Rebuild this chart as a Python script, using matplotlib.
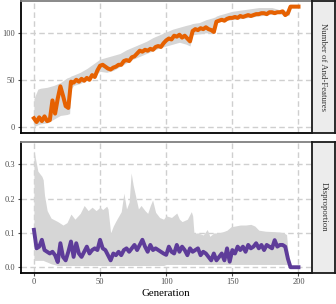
import matplotlib
matplotlib.use("Agg")
import matplotlib.pyplot as plt
import numpy as np

plt.rcParams['font.family'] = ['Liberation Serif', 'DejaVu Serif']

# ---- top panel: number of and-features ----
feat_gen = list(range(0, 201, 2))
feat_mean = [9, 5, 10, 6, 11, 6, 7, 28, 14, 30, 43, 33, 22, 20, 48, 47, 50, 48, 51, 49,
             52, 50, 55, 53, 60, 65, 66, 64, 62, 61, 63, 64, 66, 66, 70, 71, 70, 74, 75, 78,
             81, 80, 82, 81, 83, 82, 85, 86, 85, 89, 92, 94, 93, 97, 96, 98, 95, 97, 94, 91,
             102, 104, 103, 105, 104, 106, 104, 103, 101, 112, 113, 114, 113, 115, 116, 116, 117, 116, 118, 117,
             118, 119, 118, 119, 120, 120, 121, 121, 120, 122, 122, 121, 122, 122, 123, 119, 121, 128, 128, 128,
             128]
feat_band_gen = [0, 3, 5, 10, 15, 20, 25, 27, 28, 30, 35, 40, 45, 50, 55, 60, 65, 70, 75, 80,
                 85, 90, 95, 100, 105, 110, 115, 118, 120, 125, 130, 135, 137, 138, 140, 145, 150, 155, 160, 165,
                 170, 175, 180, 185, 190, 193, 194, 200]
feat_hi = [30, 40, 41, 42, 44, 47, 52, 53, 54, 55, 58, 62, 67, 72, 74, 76, 78, 82, 85, 88,
           91, 95, 98, 101, 104, 106, 108, 109, 110, 111, 114, 116, 117, 118, 119, 121, 123, 124, 125, 126,
           127, 127, 127, 125, 124, 124, 129, 129]
feat_lo = [0, 2, 3, 4, 8, 12, 13, 14, 40, 44, 46, 50, 54, 59, 58, 60, 64, 68, 72, 75,
           78, 81, 84, 86, 88, 90, 88, 86, 98, 99, 100, 100, 100, 111, 112, 113, 114, 115, 116, 117,
           118, 119, 120, 121, 118, 119, 127, 127]

# ---- bottom panel: disproportion ----
disp_gen = list(range(0, 201, 2))
disp_mean = [.109, .055, .060, .080, .050, .045, .040, .045, .035, .015, .070, .030, .020, .045, .075, .030, .070, .040, .030, .045,
             .060, .040, .050, .055, .050, .080, .055, .050, .035, .020, .040, .035, .045, .035, .050, .055, .045, .055, .065, .050,
             .065, .080, .060, .045, .065, .050, .055, .050, .045, .040, .036, .060, .045, .040, .065, .045, .060, .050, .035, .055,
             .045, .050, .055, .035, .045, .040, .030, .020, .040, .020, .030, .040, .020, .055, .016, .050, .040, .060, .050, .060,
             .045, .065, .055, .060, .070, .055, .065, .050, .065, .060, .055, .079, .060, .065, .065, .060, .025, .0, .0, .0,
             .0]
disp_band_gen = [0, 2, 3, 6, 7, 8, 10, 13, 18, 22, 25, 28, 31, 35, 38, 41, 44, 47, 50, 52,
                 55, 56, 58, 60, 62, 66, 68, 70, 72, 73.5, 75, 77, 79, 81, 84, 86, 88, 89.7, 92, 95,
                 98, 100, 104, 108, 110, 112, 116, 119, 120, 121, 124, 128, 131, 133, 136, 140, 144, 146, 149, 152,
                 156, 160, 164, 167, 170, 175, 180, 185, 189, 191, 192, 194, 200]
disp_hi = [.34, .30, .28, .265, .255, .21, .165, .143, .133, .123, .13, .155, .14, .157, .18, .165, .175, .165, .175, .168,
           .178, .17, .10, .12, .135, .162, .216, .17, .19, .275, .24, .205, .17, .18, .165, .157, .18, .196, .16, .145,
           .14, .15, .145, .158, .14, .133, .14, .162, .15, .099, .10, .094, .11, .09, .10, .10, .105, .108, .118, .12,
           .123, .123, .125, .12, .108, .105, .104, .103, .10, .095, .05, 0, 0]
disp_lo = [.02, .02, .02, .02, .02, .018, .015, .01, .005, .005, .005, .005, .005, .005, .005, .005, .005, .005, .005, .005,
           .005, .005, .005, .005, .005, .005, .005, .005, .005, .005, .005, .005, .005, .005, .005, .005, .005, .005, .005, .005,
           .005, .008, .008, .008, .008, .008, .008, .008, .008, .008, .008, .008, .008, .008, .008, .008, .008, .008, .008, .008,
           .008, .008, .008, .008, .008, .008, .008, .008, .008, .008, .005, 0, 0]

x_ticks = [0, 50, 100, 150, 200]
feat_ticks = [0, 50, 100]
disp_ticks = [0.0, 0.1, 0.2, 0.3]

W, H = 336, 304
fig = plt.figure(figsize=(W / 100, H / 100), dpi=100)

left, right = 20.7 / W, 311.7 / W
ax1 = fig.add_axes([left, 1 - 132.7 / H, right - left, (132.7 - 1) / H])
ax2 = fig.add_axes([left, 1 - 272.7 / H, right - left, (272.7 - 141.7) / H])

band_col = '#d6d6d6'
tick_col = '#4d4d4d'


def style(ax):
    ax.set_xlim(-10, 210)
    ax.set_xticks(x_ticks)
    ax.grid(True, color='#cfcfcf', linestyle=(0, (4, 2.4)), linewidth=1.0, zorder=0)
    ax.set_axisbelow(True)
    for s in ['left', 'bottom']:
        ax.spines[s].set_color('black')
        ax.spines[s].set_linewidth(1.3)
    ax.spines['top'].set_color('#808080')
    ax.spines['top'].set_linewidth(1.3)
    ax.spines['right'].set_visible(False)
    ax.tick_params(direction='out', length=2.5, width=0.8, color=tick_col,
                   labelcolor=tick_col, labelsize=6, pad=1.5)


ax1.fill_between(feat_band_gen, feat_lo, feat_hi, color=band_col, lw=0, zorder=1)
ax1.plot(feat_gen, feat_mean, color='#e66101', lw=2.9, zorder=3, solid_joinstyle='round')
style(ax1)
ax1.set_ylim(-6.4, 134)
ax1.set_yticks(feat_ticks)
ax1.tick_params(axis='x', labelbottom=False, length=0)

ax2.fill_between(disp_band_gen, disp_lo, disp_hi, color=band_col, lw=0, zorder=1)
ax2.plot(disp_gen, disp_mean, color='#5e3c99', lw=2.8, zorder=3, solid_joinstyle='round')
style(ax2)
ax2.set_ylim(-0.016, 0.366)
ax2.set_yticks(disp_ticks)
ax2.set_yticklabels(['%.1f' % t for t in disp_ticks])
ax2.set_xlabel('Generation', fontsize=7.8, labelpad=2)

# facet strips on the right
strips = [('Number of And-Features', 1, 132.7), ('Disproportion', 141.7, 272.7)]
for label, top, bot in strips:
    sx = fig.add_axes([right, 1 - bot / H, (335 - 311.7) / W, (bot - top) / H])
    sx.set_facecolor('#ececec')
    sx.set_xticks([])
    sx.set_yticks([])
    for s in sx.spines.values():
        s.set_color('#1a1a1a')
        s.set_linewidth(1.3)
    sx.text(0.5, 0.5, label, rotation=270, ha='center', va='center',
            fontsize=6.3, color='#333333', transform=sx.transAxes)

fig.savefig('out.png', dpi=100)
